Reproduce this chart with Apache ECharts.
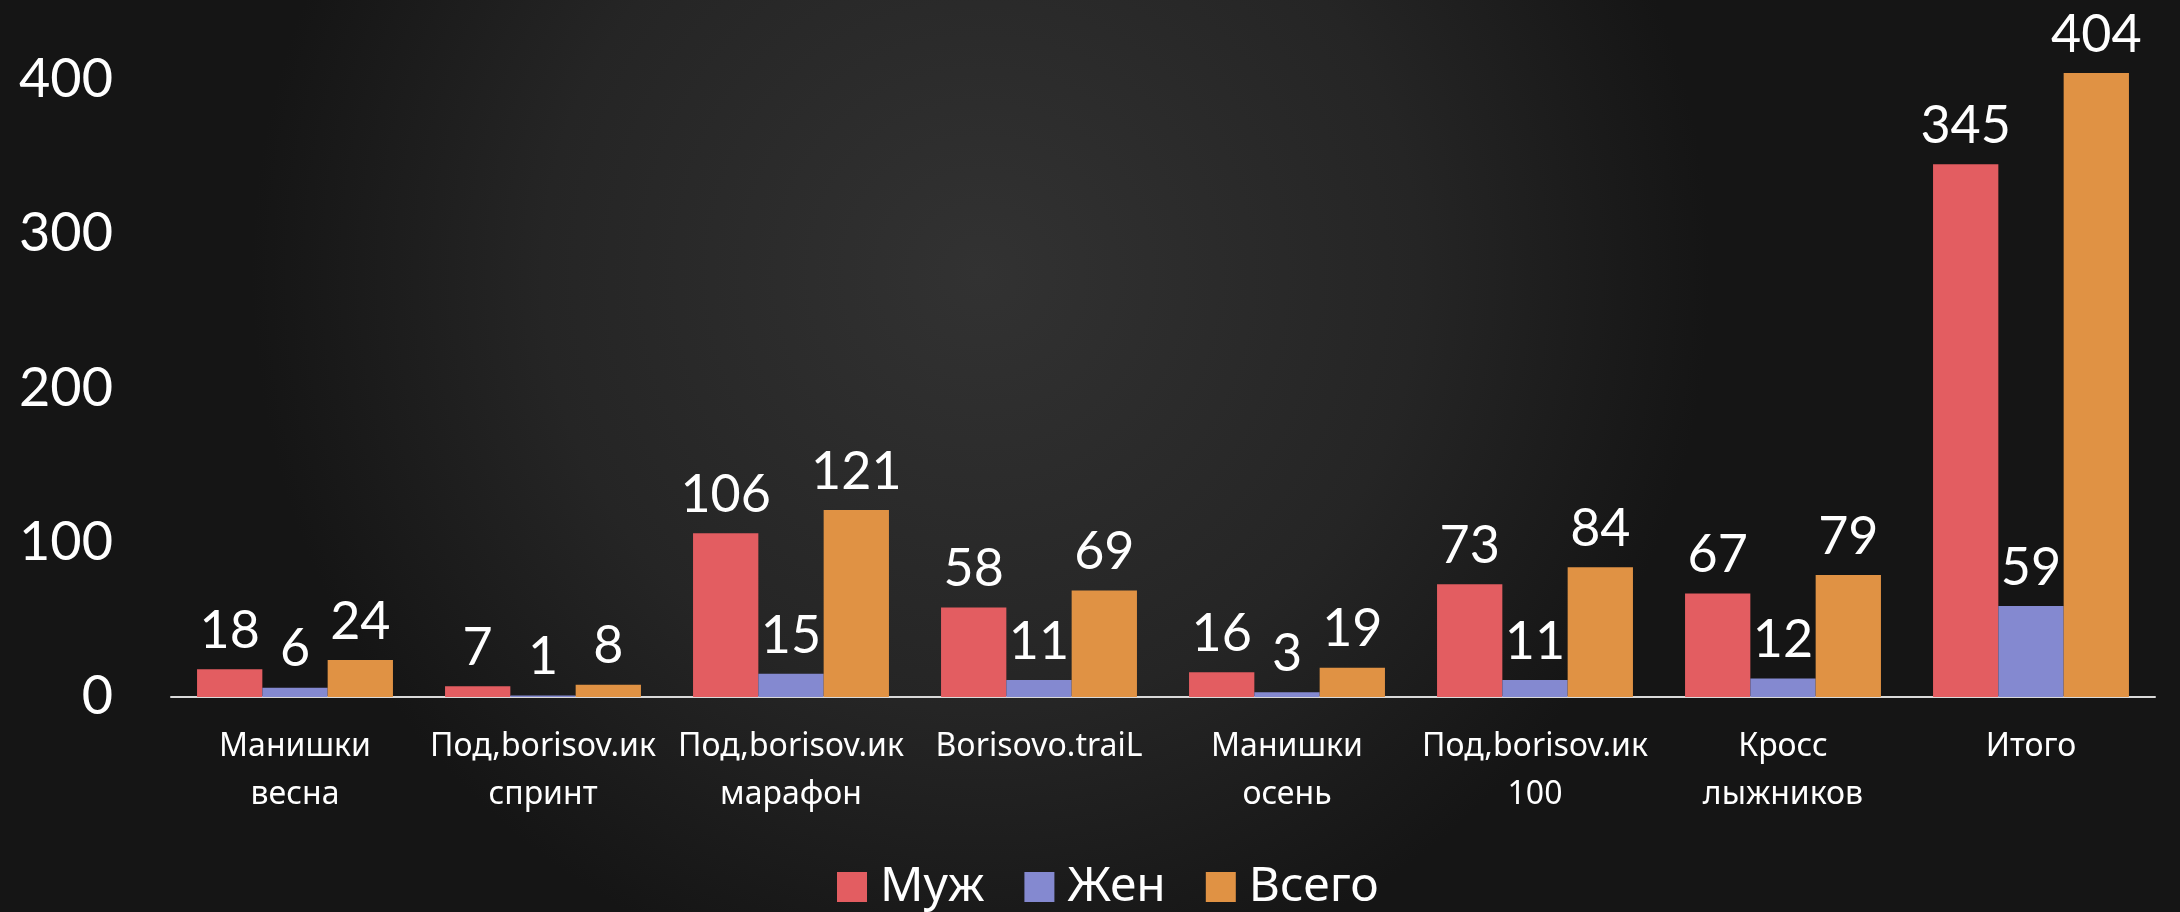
<!DOCTYPE html>
<html>
<head>
<meta charset="utf-8">
<script src="https://cdn.jsdelivr.net/npm/echarts@6/dist/echarts.min.js"></script>
<style>
  html, body { margin: 0; padding: 0; background: #1c1c1c; }
  #chart { width: 2180px; height: 912px; }
</style>
</head>
<body>
<div id="chart"></div>
<script>
const categories = [
  'Манишки\nвесна',
  'Под,borisov.ик\nспринт',
  'Под,borisov.ик\nмарафон',
  'Borisovo.traiL',
  'Манишки\nосень',
  'Под,borisov.ик\n100',
  'Кросс\nлыжников',
  'Итого',
]
const men = [18, 7, 106, 58, 16, 73, 67, 345]
const women = [6, 1, 15, 11, 3, 11, 12, 59]
const total = [24, 8, 121, 69, 19, 84, 79, 404]

const seriesNames = ['Муж', 'Жен', 'Всего']
const colors = ['#e35d61', '#8489d0', '#e09244']

const numFont = 'Lato, "Open Sans", sans-serif'
const textFont = '"Noto Sans", "Open Sans", sans-serif'

// подпись над столбцом
const valueLabel = {
  show: true,
  position: 'top',
  distance: 12,
  color: '#fff',
  fontSize: 52,
  fontFamily: numFont,
}

function bar(name, data, color) {
  return {
    name,
    type: 'bar',
    data,
    barGap: 0,
    barCategoryGap: '21%',
    itemStyle: { color },
    label: valueLabel,
  }
}

const chart = echarts.init(document.getElementById('chart'))

chart.setOption({
  animation: false,
  backgroundColor: {
    type: 'radial',
    x: 0.45,
    y: 0.3,
    r: 0.8,
    colorStops: [
      { offset: 0, color: '#323232' },
      { offset: 0.6, color: '#252525' },
      { offset: 1, color: '#151515' },
    ],
  },
  color: colors,
  grid: { left: 171, right: 25, top: 2, bottom: 215 },
  legend: {
    data: seriesNames,
    bottom: -4,
    left: 832,
    itemWidth: 30,
    itemHeight: 30,
    itemGap: 40,
    icon: 'rect',
    textStyle: { color: '#fff', fontSize: 48, fontFamily: textFont, padding: [0, 0, 0, 8] },
  },
  xAxis: {
    type: 'category',
    data: categories,
    axisLine: { lineStyle: { color: '#d9d9d9', width: 2 } },
    axisTick: { show: false },
    axisLabel: {
      color: '#fff',
      fontSize: 32,
      lineHeight: 48,
      margin: 26,
      interval: 0,
      fontFamily: textFont,
    },
  },
  yAxis: {
    type: 'value',
    min: 0,
    max: 450,
    interval: 100,
    splitLine: { show: false },
    axisLine: { show: false },
    axisTick: { show: false },
    axisLabel: {
      color: '#fff',
      fontSize: 54,
      margin: 58,
      fontFamily: numFont,
      formatter: v => (v % 100 === 0 ? String(v) : ''),
    },
  },
  series: [
    bar(seriesNames[0], men, colors[0]),
    bar(seriesNames[1], women, colors[1]),
    bar(seriesNames[2], total, colors[2]),
  ],
})
</script>
</body>
</html>
